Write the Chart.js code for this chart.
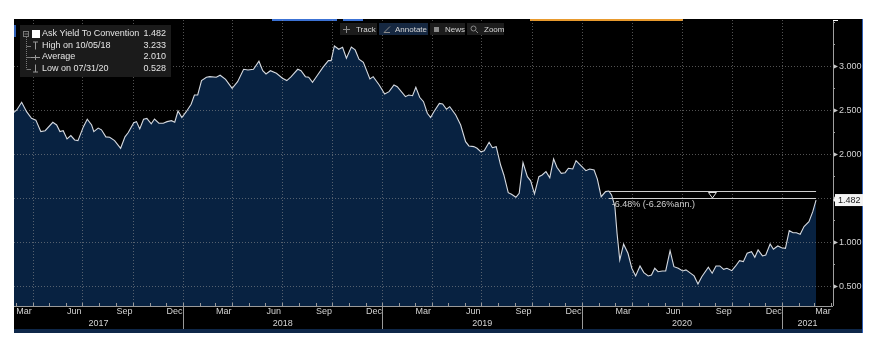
<!DOCTYPE html>
<html><head><meta charset="utf-8">
<script src="https://cdn.jsdelivr.net/npm/chart.js@4/dist/chart.umd.min.js"></script>
<style>html,body{margin:0;padding:0;background:#fff;overflow:hidden}canvas{display:block}</style>
</head><body>
<canvas id="c" width="883" height="347"></canvas>
<script>
// ---- data ----
const dates = [
"2017-02-24","2017-03-03","2017-03-12","2017-03-21","2017-03-30","2017-04-07","2017-04-16","2017-04-24","2017-05-08","2017-05-15","2017-05-21","2017-05-27",
"2017-06-03","2017-06-10","2017-06-17","2017-06-23","2017-07-03","2017-07-10","2017-07-18","2017-07-22","2017-07-30","2017-08-05","2017-08-13","2017-08-20",
"2017-08-29","2017-09-09","2017-09-17","2017-09-23","2017-10-03","2017-10-08","2017-10-14","2017-10-21","2017-10-27","2017-11-04","2017-11-10","2017-11-18",
"2017-11-26","2017-12-03","2017-12-11","2017-12-17","2017-12-23","2017-12-30",
"2018-01-07","2018-01-16","2018-01-22","2018-01-28","2018-02-04","2018-02-13","2018-02-19","2018-03-03","2018-03-10","2018-03-20","2018-04-01","2018-04-11",
"2018-04-22","2018-04-30","2018-05-10","2018-05-20","2018-05-27","2018-06-02","2018-06-10","2018-06-21","2018-07-02","2018-07-10","2018-07-18","2018-07-30",
"2018-08-05","2018-08-13","2018-08-19","2018-08-26","2018-09-04","2018-09-14","2018-09-24","2018-09-29","2018-10-05","2018-10-13","2018-10-20","2018-10-27",
"2018-11-05","2018-11-12","2018-11-19","2018-11-27","2018-12-09","2018-12-15","2018-12-26",
"2019-01-05","2019-01-13","2019-01-22","2019-01-28","2019-02-12","2019-02-18","2019-02-25","2019-03-03","2019-03-10","2019-03-17","2019-03-24","2019-03-30",
"2019-04-05","2019-04-15","2019-04-21","2019-04-28","2019-05-04","2019-05-15","2019-05-24","2019-06-02","2019-06-08","2019-06-17","2019-06-23","2019-06-30",
"2019-07-06","2019-07-15","2019-07-21","2019-07-28","2019-08-05","2019-08-11","2019-08-19","2019-08-25","2019-09-02","2019-09-08","2019-09-15","2019-09-23",
"2019-09-29","2019-10-06","2019-10-14","2019-10-20","2019-10-27","2019-11-03","2019-11-10","2019-11-16","2019-11-24","2019-12-01","2019-12-07","2019-12-15",
"2019-12-21","2019-12-29",
"2020-01-08","2020-01-15","2020-01-23","2020-01-29","2020-02-05","2020-02-13","2020-02-19","2020-02-24","2020-03-01","2020-03-05","2020-03-10","2020-03-17",
"2020-03-25","2020-04-01","2020-04-08","2020-04-16","2020-04-23","2020-05-01","2020-05-07","2020-05-13","2020-05-19","2020-05-27","2020-06-02","2020-06-10",
"2020-06-17","2020-06-25","2020-07-03","2020-07-09","2020-07-16","2020-07-24","2020-07-31","2020-08-07","2020-08-19","2020-08-26","2020-09-02","2020-09-09",
"2020-09-16","2020-09-22","2020-10-01","2020-10-08","2020-10-15","2020-10-22","2020-10-29","2020-11-06","2020-11-12","2020-11-18","2020-11-26","2020-12-02",
"2020-12-10","2020-12-16","2020-12-24","2020-12-31",
"2021-01-07","2021-01-14","2021-01-21","2021-01-27","2021-02-03","2021-02-10","2021-02-19","2021-02-26","2021-03-04"
];
const yields = [
2.47,2.506,2.593,2.486,2.41,2.39,2.26,2.27,2.366,2.335,2.26,2.27,
2.176,2.214,2.165,2.157,2.316,2.40,2.335,2.26,2.30,2.28,2.20,2.195,
2.157,2.07,2.20,2.25,2.36,2.373,2.29,2.40,2.41,2.347,2.403,2.355,
2.355,2.373,2.384,2.366,2.494,2.42,
2.486,2.57,2.676,2.676,2.84,2.877,2.884,2.877,2.90,2.854,2.752,2.827,
2.968,2.96,2.968,3.06,2.952,2.915,2.952,2.923,2.866,2.84,2.884,2.968,
2.952,2.884,2.877,2.82,2.90,2.99,3.066,3.066,3.233,3.195,3.218,3.093,
3.22,3.188,3.082,3.048,2.858,2.884,2.79,
2.688,2.714,2.79,2.77,2.657,2.676,2.668,2.763,2.65,2.60,2.468,2.42,
2.486,2.58,2.574,2.514,2.543,2.449,2.335,2.145,2.097,2.089,2.07,2.03,
2.043,2.139,2.077,2.089,1.88,1.767,1.566,1.548,1.514,1.559,1.907,1.748,
1.70,1.551,1.748,1.767,1.805,1.736,1.949,1.855,1.786,1.793,1.843,1.835,
1.93,1.88,
1.816,1.835,1.824,1.72,1.52,1.578,1.585,1.54,1.41,1.105,0.80,0.98,
0.877,0.707,0.62,0.733,0.657,0.62,0.631,0.707,0.668,0.676,0.676,0.907,
0.725,0.707,0.676,0.688,0.657,0.62,0.528,0.61,0.718,0.65,0.733,0.733,
0.695,0.707,0.68,0.733,0.793,0.782,0.877,0.895,0.832,0.915,0.847,0.858,
0.983,0.923,0.96,0.94,
0.934,1.134,1.111,1.111,1.093,1.18,1.236,1.35,1.482
];
const yTicks = [0.5, 1.0, 1.5, 2.0, 2.5, 3.0];
const labelMonths = ["Mar", "Jun", "Sep", "Dec"];
const years = [2017, 2018, 2019, 2020, 2021];
const legendRows = [
  ["Ask Yield To Convention", "1.482"],
  ["High on 10/05/18", "3.233"],
  ["Average", "2.010"],
  ["Low on 07/31/20", "0.528"]
];
const toolbarItems = ["Track", "Annotate", "News", "Zoom"];
const annotStart = "2020-02-19", annotEnd = "2021-03-04";
const annotStartValue = 1.585, annotEndValue = 1.482;
const annotText = "-6.48% (-6.26%ann.)";
const lastValue = 1.482;
const xMin = "2017-02-26", xMax = "2021-04-04";
const yMin = 0.278, yMax = 3.528;

// ---- helpers ----
const T = s => Date.parse(s);
const MON = ["Jan","Feb","Mar","Apr","May","Jun","Jul","Aug","Sep","Oct","Nov","Dec"];
const FONT = "'Liberation Sans', Arial, sans-serif";
function line(ctx, x1, y1, x2, y2) { ctx.beginPath(); ctx.moveTo(x1, y1); ctx.lineTo(x2, y2); ctx.stroke(); }

const points = dates.map((d, i) => ({ x: T(d), y: yields[i] }));

const deco = {
  id: 'deco',
  beforeDraw(chart) {
    const ctx = chart.ctx;
    ctx.save();
    ctx.fillStyle = '#ffffff'; ctx.fillRect(0, 0, 883, 347);
    ctx.fillStyle = '#000000'; ctx.fillRect(14, 19, 849, 310);
    ctx.fillStyle = '#0e2749'; ctx.fillRect(14, 329, 849, 4);
    ctx.fillStyle = '#2f5fb5'; ctx.fillRect(862, 19, 1, 314);
    ctx.fillStyle = '#3c72d4'; ctx.fillRect(272, 19, 65, 2); ctx.fillRect(343, 19, 20, 2);
    ctx.fillStyle = '#e89a2e'; ctx.fillRect(530, 19, 153, 2);
    ctx.fillStyle = '#2f5fb5'; ctx.fillRect(14, 25, 2, 12);
    ctx.restore();
  },
  beforeDatasetsDraw(chart) {
    // dotted grid drawn over the area fill, under the line
    const ctx = chart.ctx, xs = chart.scales.x, ys = chart.scales.y, a = chart.chartArea;
    ctx.save();
    ctx.strokeStyle = 'rgba(150,150,150,0.55)'; ctx.lineWidth = 1; ctx.setLineDash([1, 2]);
    yTicks.forEach(v => { const y = Math.round(ys.getPixelForValue(v)) + 0.5; line(ctx, a.left, y, a.right, y); });
    for (let yr = 2017; yr <= 2021; yr++) for (const m of [0, 3, 6, 9]) {
      const t = Date.UTC(yr, m, 1);
      if (t <= xs.min || t >= xs.max - 3 * 864e5) continue;
      const x = Math.round(xs.getPixelForValue(t)) + 0.5; line(ctx, x, a.top, x, a.bottom);
    }
    ctx.restore();
  },
  afterDraw(chart) {
    const ctx = chart.ctx, xs = chart.scales.x, ys = chart.scales.y, a = chart.chartArea;
    ctx.save();
    // x axis
    ctx.strokeStyle = '#9a9a9a'; ctx.lineWidth = 1;
    line(ctx, a.left, a.bottom + 0.5, a.right, a.bottom + 0.5);
    for (let yr = 2017; yr <= 2021; yr++) for (let m = 0; m < 12; m++) {
      const t = Date.UTC(yr, m, 1);
      if (t <= xs.min || t >= xs.max) continue;
      const x = Math.round(xs.getPixelForValue(t)) + 0.5;
      line(ctx, x, a.bottom - 3, x, a.bottom);
      if (m === 0) line(ctx, x, a.bottom, x, 329);
    }
    ctx.fillStyle = '#d4d4d4'; ctx.font = '9px ' + FONT; ctx.textAlign = 'center'; ctx.textBaseline = 'middle';
    years.forEach(yr => {
      labelMonths.forEach(name => {
        const m = MON.indexOf(name);
        const c = (Date.UTC(yr, m, 1) + Date.UTC(yr, m + 1, 1)) / 2;
        if (c < xs.min || c > xs.max) return;
        ctx.fillText(name, xs.getPixelForValue(c), 312);
      });
      const s = Math.max(Date.UTC(yr, 0, 1), xs.min), e = Math.min(Date.UTC(yr + 1, 0, 1), xs.max);
      ctx.fillText(String(yr), (xs.getPixelForValue(s) + xs.getPixelForValue(e)) / 2, 324);
    });
    // right y axis
    ctx.strokeStyle = '#a0a0a0';
    line(ctx, a.right + 0.5, a.top, a.right + 0.5, a.bottom);
    ctx.strokeStyle = '#ffffff'; line(ctx, a.right, a.top + 0.5, a.right + 5, a.top + 0.5);
    ctx.strokeStyle = '#a0a0a0';
    for (let v = 0.25; v < yMax; v += 0.25) {
      const y = Math.round(ys.getPixelForValue(v)) + 0.5;
      if (y < a.top || y > a.bottom) continue;
      line(ctx, a.right, y, a.right + 2, y);
    }
    ctx.textAlign = 'left'; ctx.fillStyle = '#d2d2d2';
    yTicks.forEach(v => {
      const y = ys.getPixelForValue(v);
      ctx.fillStyle = '#c8c8c8';
      ctx.beginPath(); ctx.moveTo(a.right + 1, y - 2); ctx.lineTo(a.right + 5, y); ctx.lineTo(a.right + 1, y + 2); ctx.closePath(); ctx.fill();
      ctx.fillStyle = '#d2d2d2';
      ctx.fillText(v.toFixed(3), a.right + 6, y);
    });
    // annotation (start -> end change)
    const x1 = xs.getPixelForValue(T(annotStart)), x2 = xs.getPixelForValue(T(annotEnd));
    const yU = Math.round(ys.getPixelForValue(annotStartValue)) + 0.5, yL = Math.round(ys.getPixelForValue(annotEndValue)) - 1.5;
    ctx.strokeStyle = '#cfcfcf'; ctx.lineWidth = 1.2;
    line(ctx, x1, yU, x2, yU); line(ctx, x1, yL, x2, yL);
    const xm = (x1 + x2) / 2;
    ctx.lineWidth = 1; ctx.strokeStyle = '#e0e0e0';
    ctx.beginPath(); ctx.moveTo(xm - 4, yU + 1); ctx.lineTo(xm + 4, yU + 1); ctx.lineTo(xm, yL - 0.5); ctx.closePath(); ctx.stroke();
    ctx.fillStyle = '#d0d0d0'; ctx.font = '9px ' + FONT; ctx.textAlign = 'left'; ctx.textBaseline = 'middle';
    ctx.fillText(annotText, x1 + 3, yL + 6);
    // last value box
    const yv = ys.getPixelForValue(lastValue);
    ctx.fillStyle = '#f4f4f4';
    ctx.fillRect(a.right + 2, yv - 6, 28, 12);
    ctx.beginPath(); ctx.moveTo(a.right, yv); ctx.lineTo(a.right + 3, yv - 3); ctx.lineTo(a.right + 3, yv + 3); ctx.closePath(); ctx.fill();
    ctx.fillStyle = '#1a1a1a'; ctx.textAlign = 'left';
    ctx.fillText(lastValue.toFixed(3), a.right + 5, yv + 0.5);
    // legend box
    ctx.fillStyle = '#1b1b1b'; ctx.fillRect(20, 25, 151, 52);
    const rowsY = [34, 45.5, 57, 68.5];
    ctx.strokeStyle = '#7a7a7a'; ctx.lineWidth = 1;
    ctx.strokeRect(23.5, 31.5, 5, 5); line(ctx, 24.5, 34, 28, 34);
    ctx.setLineDash([1, 1]); line(ctx, 26.5, 37, 26.5, 69); ctx.setLineDash([]);
    rowsY.slice(1).forEach(y => line(ctx, 26.5, Math.round(y) + 0.5, 31, Math.round(y) + 0.5));
    ctx.fillStyle = '#ffffff'; ctx.fillRect(32, 30, 8, 8);
    ctx.strokeStyle = '#9a9a9a';
    let y = rowsY[1];
    line(ctx, 33, y - 3.5, 38, y - 3.5); line(ctx, 35.5, y - 3.5, 35.5, y + 4);
    y = rowsY[2];
    line(ctx, 31, y + 0.5, 40, y + 0.5); line(ctx, 35.5, y - 2, 35.5, y + 3);
    y = rowsY[3];
    line(ctx, 35.5, y - 4, 35.5, y + 3.5); line(ctx, 33, y + 3.5, 38, y + 3.5);
    ctx.font = '9px ' + FONT; ctx.textBaseline = 'middle';
    legendRows.forEach((r, i) => {
      ctx.fillStyle = '#e4e4e4'; ctx.textAlign = 'left'; ctx.fillText(r[0], 42, rowsY[i]);
      ctx.textAlign = 'right'; ctx.fillText(r[1], 166, rowsY[i]);
    });
    // toolbar
    const boxes = [[340, 37, 356], [379, 49, 395], [430, 35, 445], [467, 37, 484]];
    ctx.font = '8px ' + FONT; ctx.textAlign = 'left';
    toolbarItems.forEach((name, i) => {
      const [bx, bw, tx] = boxes[i];
      ctx.fillStyle = i === 1 ? '#162841' : '#1c1c1c';
      ctx.fillRect(bx, 23, bw, 12);
      ctx.fillStyle = '#d6d6d6'; ctx.fillText(name, tx, 29.5);
    });
    ctx.strokeStyle = '#8a8a8a'; ctx.fillStyle = '#8a8a8a';
    line(ctx, 343, 29.5, 350, 29.5); line(ctx, 346.5, 26, 346.5, 33);
    line(ctx, 384, 32.5, 390, 26.5); line(ctx, 384, 32.5, 390, 32.5);
    ctx.fillRect(434, 27, 5, 5);
    ctx.beginPath(); ctx.arc(473.5, 28.5, 2.5, 0, Math.PI * 2); ctx.stroke(); line(ctx, 475.5, 30.5, 478, 33);
    ctx.restore();
  }
};

new Chart(document.getElementById('c'), {
  type: 'line',
  data: { datasets: [{
    data: points, borderColor: '#d6dae0', borderWidth: 1.1, backgroundColor: '#082241',
    fill: 'start', pointRadius: 0, tension: 0
  }] },
  options: {
    responsive: false, animation: false, devicePixelRatio: 1, events: [],
    layout: { padding: { left: 14, top: 20, right: 50, bottom: 41 } },
    scales: {
      x: { type: 'linear', display: false, min: T(xMin), max: T(xMax) },
      y: { type: 'linear', display: false, min: yMin, max: yMax }
    },
    plugins: { legend: { display: false }, tooltip: { enabled: false }, filler: { drawTime: 'beforeDatasetsDraw' } }
  },
  plugins: [deco]
});
</script>
</body></html>
